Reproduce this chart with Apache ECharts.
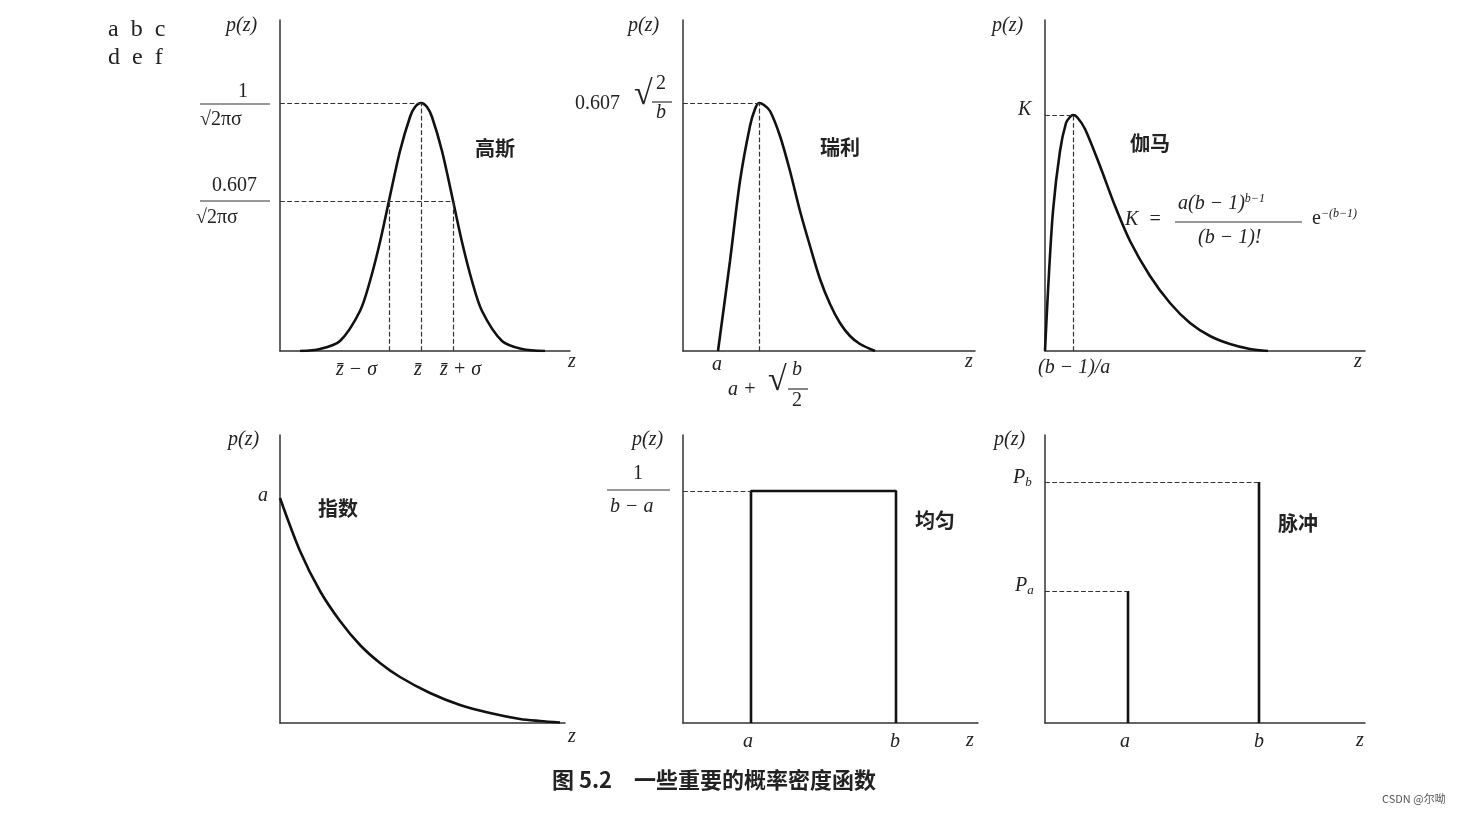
<!DOCTYPE html>
<html><head><meta charset="utf-8">
<script src="https://cdn.jsdelivr.net/npm/echarts@6/dist/echarts.min.js"></script>
<style>html,body{margin:0;background:#fff}#c{width:1464px;height:814px}</style>
</head><body><div id="c"></div>
<script>
// values (x in panel units, y = height above baseline)
const gaussX = [300,320,340,360,370,380,390,400,410,415,421,427,432,442,452,462,472,482,502,522,545];
const gaussY = [0,2,10,40,70,109,155,200,234,244,248,244,234,200,155,109,70,40,10,2,0];
const rayX = [718,730,740,750,755,759,764,770,780,790,800,810,820,830,840,850,860,875];
const rayY = [0,90,170,225,242,248,246,240,215,180,140,105,72,47,28,15,7,0];
const gamX = [1045,1048,1053,1060,1066,1070,1073,1077,1085,1100,1115,1130,1150,1170,1190,1210,1230,1250,1268];
const gamY = [0,60,140,200,228,234,236,234,222,185,145,110,75,48,28,15,7,2,0];
const expX = [280,300,320,340,360,380,400,430,460,490,520,540,560];
const expY = [225,172,132,102,78,60,46,30,18,10,4,2,0.5];
const uniX = [751,751,896,896];
const uniY = [0,232,232,0];
const impA = [1128,132];
const impB = [1259,241];
// guide lines (dashed)
const gaussPeak = [421,248], gaussMid = [389,453,150];
const rayPeak = [759,248];
const gamPeak = [1073,236];
const uniTop = [751,232];

const pairs = (xs,ys)=>xs.map((x,i)=>[x,ys[i]]);
const panels = [
  {left:280,top:20,w:290,h:331,x0:280},
  {left:683,top:20,w:292,h:331,x0:683},
  {left:1045,top:20,w:320,h:331,x0:1045},
  {left:280,top:435,w:285,h:288,x0:280},
  {left:683,top:435,w:295,h:288,x0:683},
  {left:1045,top:435,w:320,h:288,x0:1045}
];
const axisLine = {show:true,lineStyle:{color:'#333',width:1.5}};
const grid = panels.map(p=>({left:p.left,top:p.top,width:p.w,height:p.h}));
const xAxis = panels.map((p,i)=>({type:'value',gridIndex:i,min:p.x0,max:p.x0+p.w,axisLine,axisTick:{show:false},axisLabel:{show:false},splitLine:{show:false}}));
const yAxis = panels.map((p,i)=>({type:'value',gridIndex:i,min:0,max:p.h,axisLine,axisTick:{show:false},axisLabel:{show:false},splitLine:{show:false}}));
const dash = {type:'dashed',color:'#333',width:1.2};
const seg = (a,b)=>[{coord:a},{coord:b}];
function ml(lines){return {silent:true,symbol:'none',label:{show:false},lineStyle:dash,data:lines.map(l=>seg(l[0],l[1]))};}
const curve = (i,data,smooth,mark)=>({type:'line',xAxisIndex:i,yAxisIndex:i,data,smooth:smooth?0.3:false,showSymbol:false,lineStyle:{color:'#111',width:2.6},markLine:mark,animation:false});

const series = [
  curve(0,pairs(gaussX,gaussY),true,ml([
    [[280,gaussPeak[1]],gaussPeak],[[gaussPeak[0],0],gaussPeak],
    [[280,gaussMid[2]],[gaussMid[1],gaussMid[2]]],
    [[gaussMid[0],0],[gaussMid[0],gaussMid[2]]],[[gaussMid[1],0],[gaussMid[1],gaussMid[2]]]])),
  curve(1,pairs(rayX,rayY),true,ml([[[683,rayPeak[1]],rayPeak],[[rayPeak[0],0],rayPeak]])),
  curve(2,pairs(gamX,gamY),true,ml([[[1045,gamPeak[1]],gamPeak],[[gamPeak[0],0],gamPeak]])),
  curve(3,pairs(expX,expY),true),
  curve(4,pairs(uniX,uniY),false,ml([[[683,uniTop[1]],uniTop]])),
  curve(5,[[impA[0],0],impA],false,ml([[[1045,impA[1]],impA]])),
  curve(5,[[impB[0],0],impB],false,ml([[[1045,impB[1]],impB]]))
];

const serif = '"Liberation Serif","DejaVu Serif",serif';
function T(x,y,text,opt={}){return {type:'text',left:x,top:y,style:Object.assign({text,fill:'#222',font:(opt.italic===false?'':'italic ')+(opt.size||20)+'px '+serif,rich:opt.rich},opt.style||{})};}
function L(x1,x2,y){return {type:'line',shape:{x1,y1:y,x2,y2:y},style:{stroke:'#333',lineWidth:1.2}};}
function CN(x,y,t){return {type:'text',left:x,top:y,style:{text:t,fill:'#222',font:'bold 20px "Noto Sans CJK SC"'}};}
const sup = {sup:{fontSize:12,verticalAlign:'top',padding:[0,0,10,0],fontStyle:'italic',fontFamily:serif}};
const sub = {sub:{fontSize:13,padding:[10,0,0,0],fontStyle:'italic',fontFamily:serif}};

const graphic = [
  T(108,18,'a  b  c',{italic:false,size:24}), T(108,46,'d  e  f',{italic:false,size:24}),
  T(226,16,'p(z)'),T(628,16,'p(z)'),T(992,16,'p(z)'),T(228,430,'p(z)'),T(632,430,'p(z)'),T(994,430,'p(z)'),
  T(568,352,'z'),T(965,352,'z'),T(1354,352,'z'),T(568,727,'z'),T(966,731,'z'),T(1356,731,'z'),
  // gaussian
  T(238,82,'1',{italic:false}),L(200,270,104),T(200,110,'√2πσ',{italic:false}),
  T(212,176,'0.607',{italic:false}),L(200,270,201),T(196,208,'√2πσ',{italic:false}),
  T(336,360,'z̄ − σ'),T(414,360,'z̄'),T(440,360,'z̄ + σ'),
  CN(475,138,'高斯'),
  // rayleigh
  T(575,94,'0.607',{italic:false}),T(634,78,'√',{italic:false,size:34}),T(656,74,'2',{italic:false}),L(652,672,102),T(656,103,'b'),
  T(712,355,'a'),T(728,380,'a +'),T(768,364,'√',{italic:false,size:34}),T(792,360,'b'),L(788,808,389),T(792,391,'2',{italic:false}),
  CN(820,137,'瑞利'),
  // gamma
  T(1018,100,'K'),T(1038,358,'(b − 1)/a'),CN(1130,133,'伽马'),
  T(1125,210,'K  ='),T(1178,193,'{n|a(b − 1)}{sup|b−1}',{rich:Object.assign({n:{fontSize:20,fontStyle:'italic',fontFamily:serif}},sup)}),
  L(1175,1302,222),T(1198,228,'(b − 1)!'),
  T(1312,208,'{n|e}{sup|−(b−1)}',{italic:false,rich:Object.assign({n:{fontSize:20,fontFamily:serif}},sup)}),
  // exponential
  T(258,486,'a'),CN(318,498,'指数'),
  // uniform
  T(633,464,'1',{italic:false}),L(607,670,490),T(610,497,'b − a'),T(743,732,'a'),T(890,732,'b'),CN(915,510,'均匀'),
  // impulse
  T(1013,468,'{n|P}{sub|b}',{rich:Object.assign({n:{fontSize:20,fontStyle:'italic',fontFamily:serif}},sub)}),
  T(1015,576,'{n|P}{sub|a}',{rich:Object.assign({n:{fontSize:20,fontStyle:'italic',fontFamily:serif}},sub)}),
  T(1120,732,'a'),T(1254,732,'b'),CN(1278,513,'脉冲'),
  // caption
  {type:'text',left:552,top:769,style:{text:'图 5.2　一些重要的概率密度函数',fill:'#222',font:'bold 22px "Noto Sans CJK SC"'}},
  {type:'text',left:1382,top:793,style:{text:'CSDN @尔呦',fill:'#555',font:'11px "Noto Sans CJK SC"'}}
];

const chart = echarts.init(document.getElementById('c'));
chart.setOption({animation:false,backgroundColor:'#fff',grid,xAxis,yAxis,series,graphic});
</script></body></html>
